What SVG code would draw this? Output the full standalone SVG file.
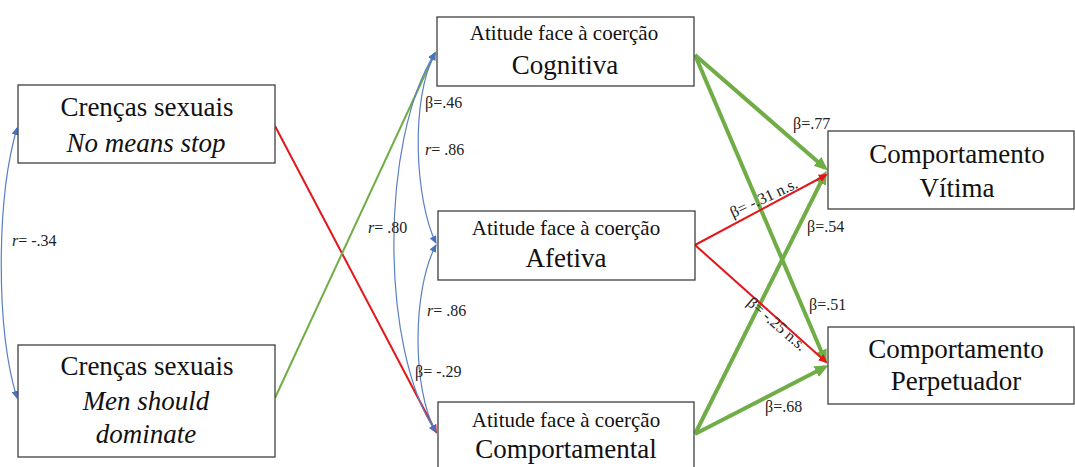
<svg xmlns="http://www.w3.org/2000/svg" width="1075" height="467" viewBox="0 0 1075 467" font-family="Liberation Serif, Times New Roman, serif">
<style>
.box{fill:#fff;stroke:#3f3f3f;stroke-width:1.3}
.t{fill:#111;text-anchor:middle}
.big{font-size:27px}
.small{font-size:21px}
.lab{font-size:16px;fill:#222}
.g{stroke:#70AD47;stroke-width:4;fill:none}
.gt{stroke:#70AD47;stroke-width:2;fill:none}
.r{stroke:#E3161B;stroke-width:2;fill:none}
.b{stroke:#5A7FC4;stroke-width:1.2;fill:none}
</style>
<defs>
<marker id="ag" viewBox="0 0 14 12" refX="10" refY="6" markerWidth="14" markerHeight="12" markerUnits="userSpaceOnUse" orient="auto"><path d="M0,0 L14,6 L0,12 z" fill="#70AD47"/></marker>
<marker id="ar" viewBox="0 0 9 8" refX="7" refY="4" markerWidth="9" markerHeight="8" markerUnits="userSpaceOnUse" orient="auto"><path d="M0,0 L9,4 L0,8 z" fill="#E3161B"/></marker>
<marker id="agt" viewBox="0 0 9 8" refX="7" refY="4" markerWidth="9" markerHeight="8" markerUnits="userSpaceOnUse" orient="auto"><path d="M0,0 L9,4 L0,8 z" fill="#70AD47"/></marker>
<marker id="ab" viewBox="0 0 8 7" refX="7" refY="3.5" markerWidth="8" markerHeight="7" markerUnits="userSpaceOnUse" orient="auto-start-reverse"><path d="M0,0 L8,3.5 L0,7 z" fill="#4A72C0"/></marker>
</defs>

<g id="connectors">
<path class="r" d="M275,126 L436,432" marker-end="url(#ar)"/>
<path class="gt" d="M275,398 L435,53" marker-end="url(#agt)"/>
<path class="b" d="M17,128 C-4,200 -4,330 17,398" marker-start="url(#ab)" marker-end="url(#ab)"/>
<path class="b" d="M435,53 C410,100 415,200 436,243" marker-start="url(#ab)" marker-end="url(#ab)"/>
<path class="b" d="M435,53 C380,140 380,350 436,432" marker-start="url(#ab)" marker-end="url(#ab)"/>
<path class="b" d="M436,245 C412,290 412,390 436,432" marker-start="url(#ab)" marker-end="url(#ab)"/>
<path class="g" d="M695,55 L825,168" marker-end="url(#ag)"/>
<path class="g" d="M695,55 L825,360" marker-end="url(#ag)"/>
<path class="g" d="M695,434 L825,174" marker-end="url(#ag)"/>
<path class="g" d="M695,434 L825,367" marker-end="url(#ag)"/>
<path class="r" d="M695,245 L826,175" marker-end="url(#ar)"/>
<path class="r" d="M695,245 L826,362" marker-end="url(#ar)"/>
</g>

<g id="labels" font-family="Liberation Serif, serif">
<text class="lab" x="12" y="246" font-family="Liberation Serif, serif"><tspan font-style="italic">r</tspan>= -.34</text>
<text class="lab" x="425" y="108" font-family="Liberation Serif, serif">β=.46</text>
<text class="lab" x="425" y="155" font-family="Liberation Serif, serif"><tspan font-style="italic">r</tspan>= .86</text>
<text class="lab" x="368" y="233" font-family="Liberation Serif, serif"><tspan font-style="italic">r</tspan>= .80</text>
<text class="lab" x="427" y="316" font-family="Liberation Serif, serif"><tspan font-style="italic">r</tspan>= .86</text>
<text class="lab" x="415" y="377" font-family="Liberation Serif, serif">β= -.29</text>
<text class="lab" x="793" y="129" font-family="Liberation Serif, serif">β=.77</text>
<text class="lab" x="807" y="232" font-family="Liberation Serif, serif">β=.54</text>
<text class="lab" x="809" y="310" font-family="Liberation Serif, serif">β=.51</text>
<text class="lab" x="765" y="412" font-family="Liberation Serif, serif">β=.68</text>
<text class="lab" transform="translate(733,218) rotate(-25)" font-family="Liberation Serif, serif">β= -.31 n.s.</text>
<text class="lab" transform="translate(746,304) rotate(41)" font-family="Liberation Serif, serif">β= -.25 n.s.</text>
</g>

<g id="n-crencas-nms">
<rect class="box" x="18" y="85" width="257" height="78"/>
<text class="t big" x="147" y="116" font-family="Liberation Serif, serif">Crenças sexuais</text>
<text class="t big" x="146" y="152" font-style="italic" font-family="Liberation Serif, serif">No means stop</text>
</g>
<g id="n-crencas-msd">
<rect class="box" x="18" y="345" width="257" height="112"/>
<text class="t big" x="147" y="375" font-family="Liberation Serif, serif">Crenças sexuais</text>
<text class="t big" x="146" y="410" font-style="italic" font-family="Liberation Serif, serif">Men should</text>
<text class="t big" x="146" y="443" font-style="italic" font-family="Liberation Serif, serif">dominate</text>
</g>
<g id="n-cognitiva">
<rect class="box" x="437" y="17" width="257" height="69"/>
<text class="t small" x="564" y="40" font-family="Liberation Serif, serif">Atitude face à coerção</text>
<text class="t big" x="565" y="74" font-family="Liberation Serif, serif">Cognitiva</text>
</g>
<g id="n-afetiva">
<rect class="box" x="438" y="211" width="257" height="69"/>
<text class="t small" x="566" y="235" font-family="Liberation Serif, serif">Atitude face à coerção</text>
<text class="t big" x="566" y="267" font-family="Liberation Serif, serif">Afetiva</text>
</g>
<g id="n-comportamental">
<rect class="box" x="438" y="402" width="256" height="70"/>
<text class="t small" x="566" y="427" font-family="Liberation Serif, serif">Atitude face à coerção</text>
<text class="t big" x="566" y="458" font-family="Liberation Serif, serif">Comportamental</text>
</g>
<g id="n-vitima">
<rect class="box" x="828" y="131" width="246" height="78"/>
<text class="t big" x="957" y="163" font-family="Liberation Serif, serif">Comportamento</text>
<text class="t big" x="957" y="197" font-family="Liberation Serif, serif">Vítima</text>
</g>
<g id="n-perpetuador">
<rect class="box" x="828" y="327" width="246" height="77"/>
<text class="t big" x="956" y="358" font-family="Liberation Serif, serif">Comportamento</text>
<text class="t big" x="956" y="390" font-family="Liberation Serif, serif">Perpetuador</text>
</g>
</svg>
